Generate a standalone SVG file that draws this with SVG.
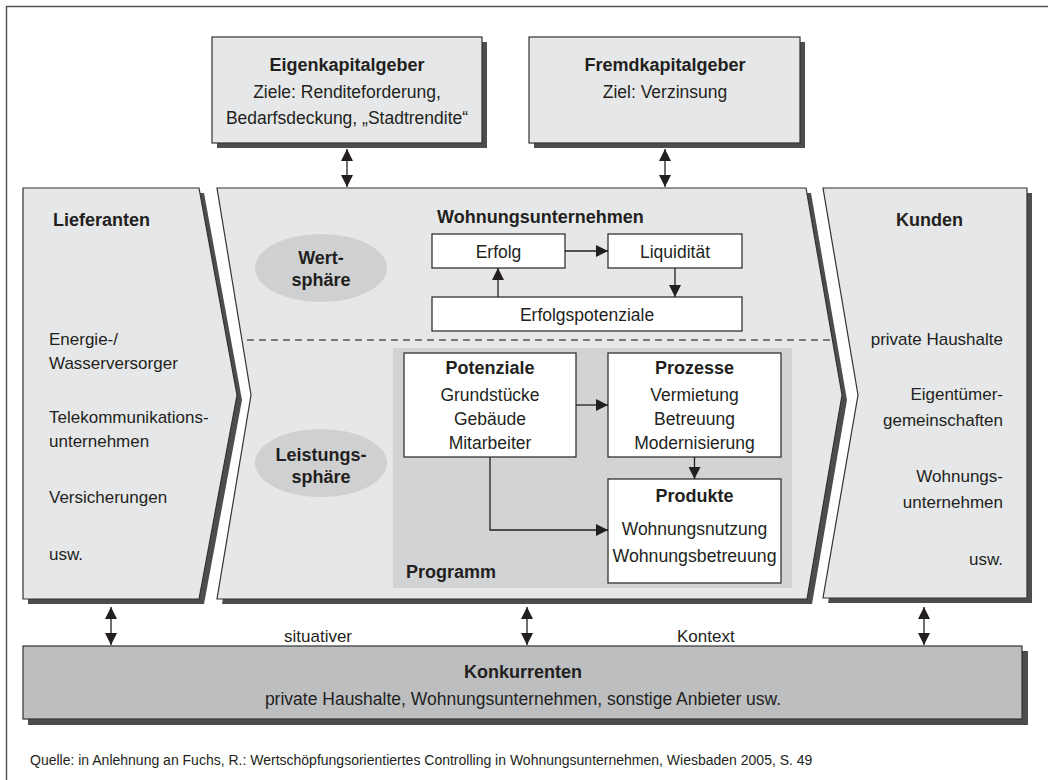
<svg xmlns="http://www.w3.org/2000/svg" width="1048" height="780" viewBox="0 0 1048 780">
  <defs>
    <style>
      text { font-family: "Liberation Sans", Arial, sans-serif; fill: #231f20; }
      .t { font-size: 17.5px; }
      .s { font-size: 17px; }
      .b { font-size: 18px; font-weight: bold; }
      .c { text-anchor: middle; }
      .e { text-anchor: end; }
      .panel { fill: #e6e7e8; stroke: #333; stroke-width: 1.2; }
      .shadow { fill: #4d4d4d; }
      .box { fill: #fff; stroke: #333; stroke-width: 1.3; }
      .oval { fill: #cfd0d2; }
      .link { fill: none; stroke: #231f20; stroke-width: 1.3; }
    </style>
    <marker id="head" viewBox="0 0 12 12" refX="12" refY="6" markerWidth="12" markerHeight="12" markerUnits="userSpaceOnUse" orient="auto-start-reverse">
      <path d="M0,0 L12,6 L0,12 Z" fill="#231f20"/>
    </marker>
  </defs>

  <rect width="1048" height="780" fill="#fff"/>
  <!-- page frame (open to the right and bottom) -->
  <rect x="6.5" y="6.5" width="1100" height="900" fill="none" stroke="#555" stroke-width="1.5"/>

  <!-- investors -->
  <g id="eigenkapitalgeber">
    <rect class="shadow" x="217" y="42" width="270" height="106"/>
    <rect class="panel" x="212" y="37" width="270" height="106"/>
    <text class="b c" x="347" y="71">Eigenkapitalgeber</text>
    <text class="t c" x="347" y="98">Ziele: Renditeforderung,</text>
    <text class="t c" x="347" y="124">Bedarfsdeckung, „Stadtrendite“</text>
  </g>
  <g id="fremdkapitalgeber">
    <rect class="shadow" x="534" y="42" width="271" height="106"/>
    <rect class="panel" x="529" y="37" width="271" height="106"/>
    <text class="b c" x="665" y="71">Fremdkapitalgeber</text>
    <text class="t c" x="665" y="98">Ziel: Verzinsung</text>
  </g>

  <!-- suppliers -->
  <g id="lieferanten">
    <polygon class="shadow" points="28,193 204,193 242,400 204,604 28,604"/>
    <polygon class="panel" points="23,188 199,188 237,395 199,599 23,599"/>
    <text class="b" x="53" y="226">Lieferanten</text>
    <text class="s" x="49" y="345">Energie-/</text>
    <text class="s" x="49" y="369">Wasserversorger</text>
    <text class="s" x="49" y="423">Telekommunikations-</text>
    <text class="s" x="49" y="447">unternehmen</text>
    <text class="s" x="49" y="503">Versicherungen</text>
    <text class="s" x="49" y="560">usw.</text>
  </g>

  <!-- housing company -->
  <g id="wohnungsunternehmen">
    <polygon class="shadow" points="222,193 811,193 847,400 812,604 222,604 256,400"/>
    <polygon class="panel" points="217,188 806,188 842,395 807,599 217,599 251,395"/>
    <line x1="247" y1="340" x2="832" y2="340" stroke="#555" stroke-width="1.3" stroke-dasharray="7,5"/>
    <text class="b" x="437" y="223">Wohnungsunternehmen</text>
  </g>

  <g id="wertsphaere">
    <ellipse class="oval" cx="321" cy="268" rx="66" ry="34"/>
    <text class="b c" x="321" y="264">Wert-</text>
    <text class="b c" x="321" y="286">sphäre</text>
  </g>
  <g id="leistungssphaere">
    <ellipse class="oval" cx="321" cy="463" rx="66" ry="34"/>
    <text class="b c" x="321" y="461">Leistungs-</text>
    <text class="b c" x="321" y="483">sphäre</text>
  </g>

  <g id="erfolg">
    <rect class="box" x="432" y="234" width="133" height="34"/>
    <text class="t c" x="498.5" y="257.5">Erfolg</text>
  </g>
  <g id="liquiditaet">
    <rect class="box" x="608" y="234" width="134" height="34"/>
    <text class="t c" x="675" y="257.5">Liquidität</text>
  </g>
  <g id="erfolgspotenziale">
    <rect class="box" x="432" y="297" width="310" height="34"/>
    <text class="t c" x="587" y="320.5">Erfolgspotenziale</text>
  </g>

  <g id="programm">
    <rect x="393" y="348" width="399" height="240" fill="#d1d3d4"/>
    <text class="b" x="406" y="578">Programm</text>
  </g>
  <g id="potenziale">
    <rect class="box" x="404" y="353" width="172" height="104"/>
    <text class="b c" x="490" y="374">Potenziale</text>
    <text class="t c" x="490" y="401">Grundstücke</text>
    <text class="t c" x="490" y="425">Gebäude</text>
    <text class="t c" x="490" y="449">Mitarbeiter</text>
  </g>
  <g id="prozesse">
    <rect class="box" x="608" y="353" width="173" height="104"/>
    <text class="b c" x="694.5" y="374">Prozesse</text>
    <text class="t c" x="694.5" y="401">Vermietung</text>
    <text class="t c" x="694.5" y="425">Betreuung</text>
    <text class="t c" x="694.5" y="449">Modernisierung</text>
  </g>
  <g id="produkte">
    <rect class="box" x="608" y="479" width="173" height="104"/>
    <text class="b c" x="694.5" y="502">Produkte</text>
    <text class="t c" x="694.5" y="535">Wohnungsnutzung</text>
    <text class="t c" x="694.5" y="562" textLength="164" lengthAdjust="spacingAndGlyphs">Wohnungsbetreuung</text>
  </g>

  <!-- customers -->
  <g id="kunden">
    <polygon class="shadow" points="828,193 1032,193 1032,603 828,603 863,400"/>
    <polygon class="panel" points="823,188 1027,188 1027,598 823,598 858,395"/>
    <text class="b" x="896" y="226">Kunden</text>
    <text class="s e" x="1003" y="345">private Haushalte</text>
    <text class="s e" x="1003" y="400">Eigentümer-</text>
    <text class="s e" x="1003" y="426">gemeinschaften</text>
    <text class="s e" x="1003" y="482">Wohnungs-</text>
    <text class="s e" x="1003" y="508">unternehmen</text>
    <text class="s e" x="1003" y="565">usw.</text>
  </g>

  <!-- competitors -->
  <g id="konkurrenten">
    <rect class="shadow" x="28" y="651" width="1000" height="74"/>
    <rect x="23" y="646" width="999" height="73" fill="#bcbec0" stroke="#333" stroke-width="1.2"/>
    <text class="b c" x="523" y="678">Konkurrenten</text>
    <text class="t c" x="523" y="705">private Haushalte, Wohnungsunternehmen, sonstige Anbieter usw.</text>
  </g>

  <g id="connectors">
    <line class="link" x1="347" y1="149" x2="347" y2="187" marker-start="url(#head)" marker-end="url(#head)"/>
    <line class="link" x1="665" y1="149" x2="665" y2="187" marker-start="url(#head)" marker-end="url(#head)"/>
    <line class="link" x1="111" y1="607" x2="111" y2="645" marker-start="url(#head)" marker-end="url(#head)"/>
    <line class="link" x1="527" y1="607" x2="527" y2="645" marker-start="url(#head)" marker-end="url(#head)"/>
    <line class="link" x1="924" y1="607" x2="924" y2="645" marker-start="url(#head)" marker-end="url(#head)"/>
    <line class="link" x1="565" y1="251" x2="608" y2="251" marker-end="url(#head)"/>
    <line class="link" x1="675" y1="268" x2="675" y2="297" marker-end="url(#head)"/>
    <line class="link" x1="498" y1="297" x2="498" y2="268" marker-end="url(#head)"/>
    <line class="link" x1="576" y1="405" x2="608" y2="405" marker-end="url(#head)"/>
    <line class="link" x1="694.5" y1="457" x2="694.5" y2="479" marker-end="url(#head)"/>
    <polyline class="link" points="490,457 490,530 608,530" marker-end="url(#head)"/>
  </g>

  <text class="s" x="284" y="642">situativer</text>
  <text class="s" x="677" y="642">Kontext</text>
  <text x="30" y="765" font-size="14px">Quelle: in Anlehnung an Fuchs, R.: Wertschöpfungsorientiertes Controlling in Wohnungsunternehmen, Wiesbaden 2005, S. 49</text>
</svg>
